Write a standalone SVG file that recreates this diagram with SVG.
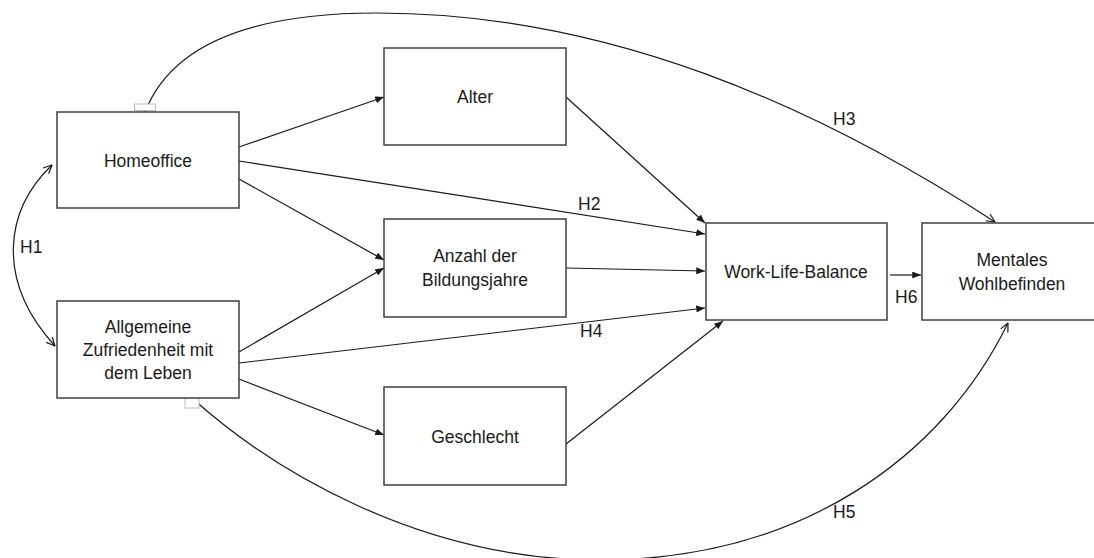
<svg xmlns="http://www.w3.org/2000/svg" width="1094" height="558" viewBox="0 0 1094 558">
<defs>
<style>
.box{fill:#fff;stroke:#404040;stroke-width:1.5}
.lbl{font-family:"Liberation Sans",Arial,sans-serif;font-size:17.5px;fill:#1a1a1a;text-anchor:middle}
.hl{font-family:"Liberation Sans",Arial,sans-serif;font-size:17.5px;fill:#1a1a1a}
.ln{fill:none;stroke:#1a1a1a;stroke-width:1.2}
.handle{fill:#fff;stroke:#bdbdbd;stroke-width:1}
</style>
<marker id="tri" viewBox="0 0 10 8" refX="10" refY="4" markerWidth="9" markerHeight="7" markerUnits="userSpaceOnUse" orient="auto">
<path d="M0,0 L10,4 L0,8 Z" fill="#1a1a1a"/>
</marker>
<marker id="vee" viewBox="0 0 10 10" refX="9.5" refY="5" markerWidth="10" markerHeight="10" markerUnits="userSpaceOnUse" orient="auto-start-reverse">
<path d="M1,1 L9.5,5 L1,9" fill="none" stroke="#1a1a1a" stroke-width="1.2"/>
</marker>
</defs>
<rect width="1094" height="558" fill="#fff"/>

<g id="connectors">
<path class="ln" d="M239,147 L384,97" marker-end="url(#tri)"/>
<path class="ln" d="M239,161 L705,234" marker-end="url(#tri)"/>
<path class="ln" d="M239,179 L384,260" marker-end="url(#tri)"/>
<path class="ln" d="M239,352 L384,268" marker-end="url(#tri)"/>
<path class="ln" d="M239,363 L705,308" marker-end="url(#tri)"/>
<path class="ln" d="M239,379 L384,435" marker-end="url(#tri)"/>
<path class="ln" d="M566,97 L705,223" marker-end="url(#tri)"/>
<path class="ln" d="M566,268 L705,271" marker-end="url(#tri)"/>
<path class="ln" d="M566,444 L723,321" marker-end="url(#tri)"/>
<path class="ln" d="M890,275 L921,275" marker-end="url(#tri)"/>
<path class="ln" d="M52,165 C5,210 -5,280 55,346" marker-start="url(#vee)" marker-end="url(#vee)"/>
<path class="ln" d="M145,112 C175,35 270,13 377,13 C607,13 815,105 995,222" marker-end="url(#vee)"/>
<path class="ln" d="M192,398 C272,470 420,560 600,560 C800,560 942,458 1008,323" marker-end="url(#vee)"/>
<rect class="handle" x="134.5" y="104" width="21" height="6.5"/>
<rect class="handle" x="185" y="398" width="14" height="10"/>
<text class="hl" x="20" y="253">H1</text>
<text class="hl" x="578" y="210">H2</text>
<text class="hl" x="833" y="125">H3</text>
<text class="hl" x="580" y="337">H4</text>
<text class="hl" x="833" y="518">H5</text>
<text class="hl" x="895" y="303">H6</text>
</g>

<g id="homeoffice">
<rect class="box" x="57" y="112" width="182" height="96"/>
<text class="lbl" x="148" y="167">Homeoffice</text>
</g>
<g id="allgemeine">
<rect class="box" x="57" y="301" width="182" height="97"/>
<text class="lbl" x="148" y="333">Allgemeine</text>
<text class="lbl" x="148" y="356">Zufriedenheit mit</text>
<text class="lbl" x="148" y="379">dem Leben</text>
</g>
<g id="alter">
<rect class="box" x="384" y="48" width="182" height="97"/>
<text class="lbl" x="475" y="103">Alter</text>
</g>
<g id="bildung">
<rect class="box" x="384" y="219" width="182" height="98"/>
<text class="lbl" x="475" y="262">Anzahl der</text>
<text class="lbl" x="475" y="286">Bildungsjahre</text>
</g>
<g id="geschlecht">
<rect class="box" x="384" y="387" width="182" height="98"/>
<text class="lbl" x="475" y="443">Geschlecht</text>
</g>
<g id="wlb">
<rect class="box" x="706" y="223" width="181" height="97"/>
<text class="lbl" x="796" y="278">Work-Life-Balance</text>
</g>
<g id="mentales">
<rect class="box" x="922" y="223" width="190" height="97"/>
<text class="lbl" x="1012" y="266">Mentales</text>
<text class="lbl" x="1012" y="290">Wohlbefinden</text>
</g>
</svg>
